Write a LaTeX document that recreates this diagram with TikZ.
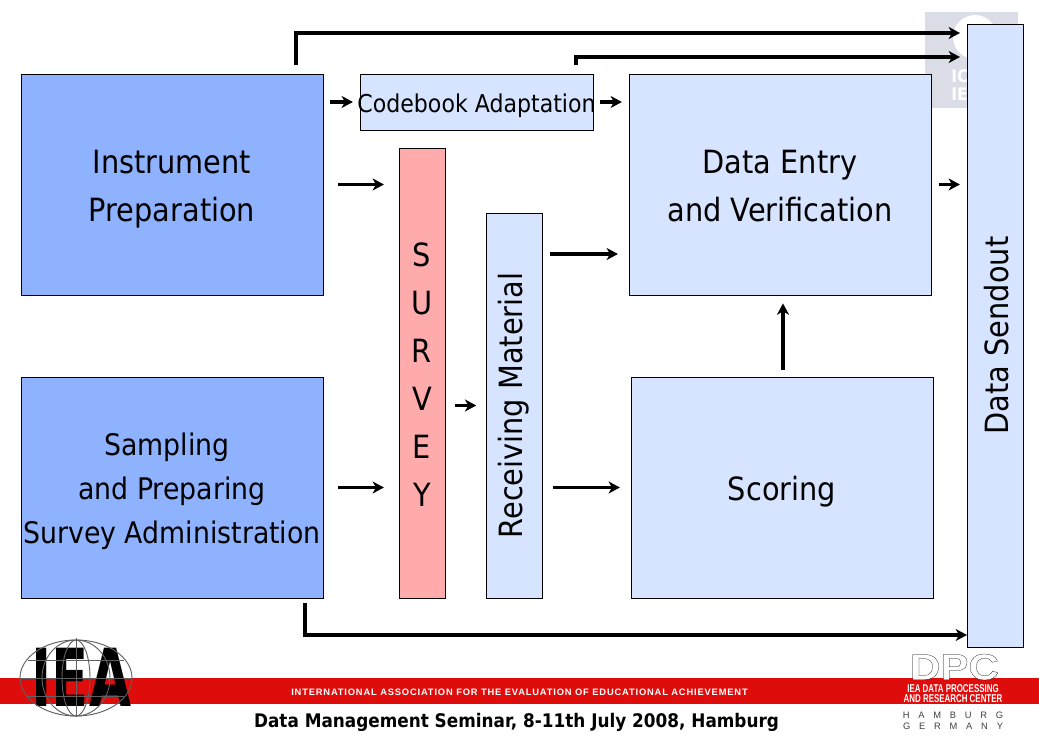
\documentclass[tikz,border=0pt]{standalone}
\usepackage{fontspec}
\setmainfont{DejaVu Sans}[FakeStretch=0.9]
\newfontfamily\barfont[LetterSpace=9]{Liberation Sans Bold}
\newfontfamily\narrowfont[FakeStretch=0.7]{Liberation Sans Bold}
\newfontfamily\placefont{Liberation Sans}
\newfontfamily\logofont[FakeStretch=0.68]{DejaVu Sans Bold}
\newfontfamily\dpcfont[FakeBold=0.6,FakeStretch=1.15]{Liberation Sans Bold}
\usetikzlibrary{arrows.meta,calc}
\definecolor{boxdark}{HTML}{8FB2FF}
\definecolor{boxlight}{HTML}{D6E4FF}
\definecolor{boxpink}{HTML}{FFABAB}
\definecolor{barred}{HTML}{DF0C0C}
\definecolor{logogray}{HTML}{DADDE6}
\def \U {0.75pt}
\def \pad #1{\rule{0pt}{#1}}
\tikzset{
    stage/.style={draw=black, line width=0.6pt, fill=boxlight, inner sep=0pt, align=center, font=\fontsize{24}{36}\selectfont},
    flow/.style={line width=2.4pt, -{Stealth[length=8.5pt,width=9pt,inset=2.5pt]}},
    globe/.style={draw=gray!75!black, line width=0.7pt}
}
\begin{document}
\begin{tikzpicture}[x=0.75pt, y=-0.75pt]
    \useasboundingbox (0,0) rectangle (1039,737);
    \fill[barred] (0,678) rectangle (1039,704);
    \fill[logogray] (925,12) rectangle (1018,108);
    \fill[white] (975,37) circle (22);
    \node[text=white, font=\fontsize{13}{13.5}\bfseries, align=left, inner sep=0pt] (faintlogo) at (960,85) {IC\\IE};
    \node[stage, fill=boxdark, minimum width=302*\U, minimum height=221*\U] (instr) at (172,184.5) {\pad{25pt}Instrument\\Preparation};
    \node[stage, fill=boxdark, minimum width=302*\U, minimum height=221*\U, font=\fontsize{22.3}{33}\selectfont] (sampling) at (172,487.5) {\pad{23pt}Sampling\hspace*{7.5pt}\\and Preparing\\Survey Administration};
    \node[stage, minimum width=233*\U, minimum height=56*\U, font=\fontsize{18.4}{22}\selectfont] (codebook) at (476.5,102) {\makebox[0pt]{\pad{20pt}Codebook Adaptation}};
    \node[stage, fill=boxpink, minimum width=46*\U, minimum height=450*\U] (survey) at (422,373) {\pad{20pt}S\\U\\R\\V\\E\\Y};
    \node[stage, minimum width=56*\U, minimum height=385*\U] (receiving) at (514,405.5) {\rotatebox{90}{Receiving Material}};
    \node[stage, minimum width=302*\U, minimum height=221*\U] (entry) at (780,184.5) {\pad{20pt}Data Entry\\and Verification};
    \node[stage, minimum width=302*\U, minimum height=221*\U] (scoring) at (782,487.5) {\pad{24pt}Scoring};
    \node[stage, minimum width=56*\U, minimum height=623*\U] (sendout) at (995,335.5) {\rotatebox{90}{\pad{21pt}Data Sendout}};
    \coordinate (top1) at (296,65);
    \coordinate (top2) at (576,65);
    \coordinate (end1) at (960,33);
    \coordinate (end2) at (960,57);
    \coordinate (low1) at (305,603);
    \coordinate (low2) at (967,635);
    \draw[flow] (top1) |- (end1);
    \draw[flow] (top2) |- (end2);
    \draw[flow] (low1) |- (low2);
    \draw[flow, shorten <=5pt, shorten >=5pt] (instr.east |- codebook) -- (codebook.west);
    \draw[flow, shorten <=5pt, shorten >=5pt] (codebook.east) -- (entry.west |- codebook);
    \draw[flow, shorten <=11pt, shorten >=11pt] (instr.east) -- (survey.west |- instr);
    \draw[flow, shorten <=11pt, shorten >=11pt] (sampling.east) -- (survey.west |- sampling);
    \draw[flow, shorten <=7pt, shorten >=7pt] (survey.east |- receiving) -- (receiving.west);
    \draw[flow, shorten <=6pt, shorten >=8pt] (receiving.east |- 0,254) -- (entry.west |- 0,254);
    \draw[flow, shorten <=8pt, shorten >=8pt] (receiving.east |- scoring) -- (scoring.west);
    \draw[flow, shorten <=5pt, shorten >=6pt] (scoring.north -| 783,0) -- (entry.south -| 783,0);
    \draw[flow, shorten <=6pt, shorten >=5pt] (entry.east) -- (sendout.west |- entry);
    \node[text=white, font=\barfont\fontsize{7}{8}\selectfont, inner sep=0pt] (bartext) at (519.5,692.5) {INTERNATIONAL ASSOCIATION FOR THE EVALUATION OF EDUCATIONAL ACHIEVEMENT};
    \node[font=\fontsize{14.05}{16}\selectfont\bfseries, inner sep=0pt] (seminar) at (516.5,722) {Data Management Seminar, 8-11th July 2008, Hamburg};
    \node[font=\logofont\fontsize{60}{60}\selectfont, inner sep=0pt] (ialogo) at (81.5,677) {IEA};
    \draw[globe] (76,678) ellipse (56 and 38);
    \draw[globe] (76,678) ellipse (34 and 38);
    \draw[globe] (76,678) ellipse (14 and 38);
    \draw[globe] (76,638) -- (76,717);
    \draw[globe] (20,678) -- (132,678);
    \draw[globe] (28,660) -- (124,660);
    \draw[globe] (28,696) -- (124,696);
    \node[font=\dpcfont\fontsize{27.5}{27.5}\selectfont, text=white, inner sep=0pt] (dpc) at (954.5,667) {\special{pdf:code 0 0 0 RG}DPC};
    \node[text=white, font=\narrowfont\fontsize{8.5}{7}\selectfont, align=center, inner sep=0pt] (dpcname) at (953,693.5) {IEA DATA PROCESSING\\AND RESEARCH CENTER};
    \node[text=black!75, font=\placefont\fontsize{7}{8}\selectfont, align=center, inner sep=0pt] (dpcplace) at (953,721) {H\hspace{6.6pt}A\hspace{6.6pt}M\hspace{6.6pt}B\hspace{6.6pt}U\hspace{6.6pt}R\hspace{6.6pt}G\\G\hspace{6.6pt}E\hspace{6.6pt}R\hspace{6.6pt}M\hspace{6.6pt}A\hspace{6.6pt}N\hspace{6.6pt}Y};
\end{tikzpicture}
\end{document}
